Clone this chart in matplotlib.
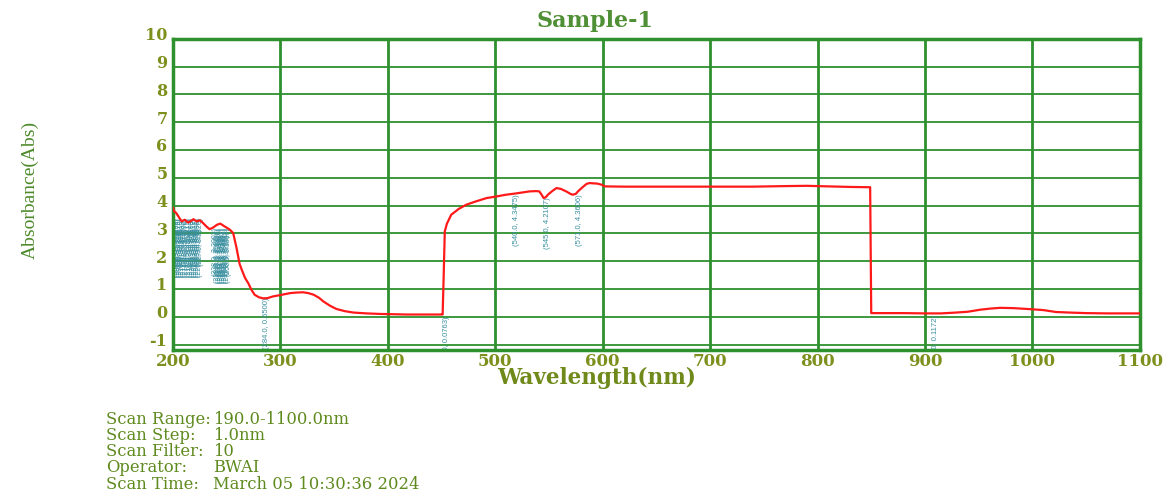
import numpy as np
import matplotlib
matplotlib.use("Agg")
import matplotlib.pyplot as plt
import matplotlib.transforms as mtransforms

plt.rcParams["axes.unicode_minus"] = False

# spectrum
WL = [200, 201, 203, 205, 208, 211, 214, 217, 219, 222, 225, 228, 231, 234, 237, 241, 244,
      248, 251, 253, 256, 259, 262, 264, 267, 270, 273, 276, 280, 284, 288, 293, 300, 309,
      315, 321, 326, 331, 336, 340, 346, 352, 360, 368, 380, 393, 417, 440, 450, 451,
      452, 453, 455, 459, 466, 473, 482, 492, 500, 510, 520, 532, 538, 541, 543, 545,
      547, 549, 553, 557, 561, 566, 570, 572, 575, 577, 581, 585, 588, 591, 595, 599,
      602, 620, 650, 700, 740, 770, 790, 810, 830, 848, 849, 850, 880, 900, 915, 929,
      940, 951, 960, 970, 982, 995, 1010, 1022, 1035, 1050, 1070, 1100]
ABS = [3.92, 3.80, 3.73, 3.61, 3.43, 3.49, 3.39, 3.45, 3.51, 3.43, 3.47, 3.37, 3.25, 3.15, 3.20, 3.31, 3.35,
       3.25, 3.18, 3.13, 3.01, 2.50, 1.90, 1.69, 1.40, 1.21, 0.97, 0.79, 0.70, 0.66, 0.67, 0.73, 0.78, 0.85,
       0.87, 0.88, 0.85, 0.79, 0.68, 0.55, 0.40, 0.28, 0.20, 0.15, 0.12, 0.10, 0.08, 0.08, 0.08, 0.08,
       1.50, 3.07, 3.35, 3.67, 3.88, 4.03, 4.15, 4.27, 4.32, 4.39, 4.44, 4.51, 4.52, 4.51, 4.40, 4.27,
       4.30, 4.39, 4.52, 4.63, 4.60, 4.51, 4.42, 4.39, 4.42, 4.51, 4.65, 4.78, 4.81, 4.80, 4.79, 4.75,
       4.69, 4.68, 4.68, 4.68, 4.68, 4.70, 4.71, 4.69, 4.67, 4.66, 4.66, 0.13, 0.13, 0.12, 0.12, 0.15,
       0.18, 0.25, 0.29, 0.32, 0.31, 0.28, 0.24, 0.17, 0.15, 0.13, 0.12, 0.12]

# peak-pick annotations (wavelength, absorbance)
PEAK_NM = [201, 202, 203, 204, 205, 206, 207, 208, 209, 210, 211, 212, 213, 214, 215,
           216, 217, 218, 219, 220, 221, 222, 223, 224, 225, 226, 227]
PEAK_ABS = [3.9200, 3.8012, 3.7305, 3.6843, 3.6108, 3.5512, 3.4876, 3.4321, 3.4610, 3.4835,
            3.4903, 3.4412, 3.4096, 3.3917, 3.4215, 3.4507, 3.4512, 3.4906, 3.5103, 3.4722,
            3.4318, 3.4301, 3.4511, 3.4705, 3.4690, 3.4213, 3.3826]
PEAK2_NM = [238, 239, 240, 241, 242, 243, 244, 245, 246, 247, 248, 249, 250]
PEAK2_ABS = [3.2003, 3.2517, 3.2806, 3.3104, 3.3286, 3.3412, 3.3501, 3.3217, 3.2904, 3.2688,
             3.2511, 3.2215, 3.1806]
LABEL_NM = [284.0, 451.0, 540.0, 545.0, 571.0, 910.0]
LABEL_ABS = [0.6500, 0.0763, 4.3475, 4.2107, 4.3606, 0.1172]
LABEL_X = [287, 455, 520, 549, 578, 910]
LABEL_TOP = [0.68, 0.02, 4.42, 4.30, 4.42, 0.06]

INFO_KEYS = ["Scan Range:", "Scan Step:", "Scan Filter:", "Operator:", "Scan Time:"]
INFO_VALS = ["190.0-1100.0nm", "1.0nm", "10", "BWAI", "March 05 10:30:36 2024"]

GREEN = "#2e912e"
TICKC = "#7d8f1c"
TEAL = "#3a8fa0"
SERIF = "DejaVu Serif"

fig = plt.figure(figsize=(11.69, 4.91), dpi=100)
ax = fig.add_axes([0.148, 0.287, 0.827, 0.634])

ax.plot(WL, ABS, color="#ff1a1a", lw=1.6, zorder=3)

ax.set_xlim(200, 1100)
ax.set_ylim(-1.2, 10)
ax.set_xticks(np.arange(200, 1101, 100))
ax.set_yticks(np.arange(-1, 11, 1))
ax.grid(True, axis="x", color=GREEN, lw=2.0)
ax.grid(True, axis="y", color=GREEN, lw=1.3)
for s in ax.spines.values():
    s.set_color(GREEN)
    s.set_linewidth(2.5)
ax.tick_params(length=0)
ax.tick_params(axis="y", pad=4)
ax.tick_params(axis="x", pad=2)
shift = mtransforms.ScaledTranslation(0, 0.05, fig.dpi_scale_trans)
for lab in ax.get_xticklabels() + ax.get_yticklabels():
    lab.set_family(SERIF)
    lab.set_fontweight("bold")
    lab.set_color(TICKC)
for lab in ax.get_xticklabels():
    lab.set_fontsize(12)
for lab in ax.get_yticklabels():
    lab.set_fontsize(11.5)
    lab.set_transform(lab.get_transform() + shift)

fig.text(597 / 1169, 1 - 378 / 491, "Wavelength(nm)", ha="center", va="center",
         family=SERIF, fontweight="bold", fontsize=15.5, color="#6f8a1a")
fig.text(0.026, 1 - 190 / 491, "Absorbance(Abs)", rotation=90, ha="center", va="center",
         family="Liberation Serif", fontsize=14, color="#4d8a2a")
fig.text(595 / 1169, 1 - 21 / 491, "Sample-1", ha="center", va="center", family=SERIF,
         fontweight="bold", fontsize=16, color="#4f8f35")

# dense peak labels near 200-260 nm
for i, (nm, a) in enumerate(zip(PEAK_NM, PEAK_ABS)):
    top = 3.55 if i % 2 == 0 else 3.15
    ax.text(nm - 1, top, f"({nm:.1f}, {a:.4f})", rotation=90, ha="center", va="top",
            fontsize=5, color=TEAL, family="Liberation Sans", clip_on=True, zorder=2)
for i, (nm, a) in enumerate(zip(PEAK2_NM, PEAK2_ABS)):
    top = 3.2 if i % 2 == 0 else 2.95
    ax.text(nm + 2, top, f"({nm:.1f}, {a:.4f})", rotation=90, ha="center", va="top",
            fontsize=5, color=TEAL, family="Liberation Sans", clip_on=True, zorder=2)
for nm, a, x, top in zip(LABEL_NM, LABEL_ABS, LABEL_X, LABEL_TOP):
    ax.text(x, top, f"({nm:.1f}, {a:.4f})", rotation=90, ha="center", va="top",
            fontsize=5.5, color=TEAL, family="Liberation Sans", clip_on=True, zorder=2)

# scan info block
for i, (k, v) in enumerate(zip(INFO_KEYS, INFO_VALS)):
    y = 1 - (419 + i * 16.3) / 491
    fig.text(106 / 1169, y, k, family=SERIF, fontsize=11.8, color="#5e8a1e", va="center")
    fig.text(213 / 1169, y, v, family=SERIF, fontsize=11.8, color="#5e8a1e", va="center")

fig.savefig("out.png", dpi=100)
